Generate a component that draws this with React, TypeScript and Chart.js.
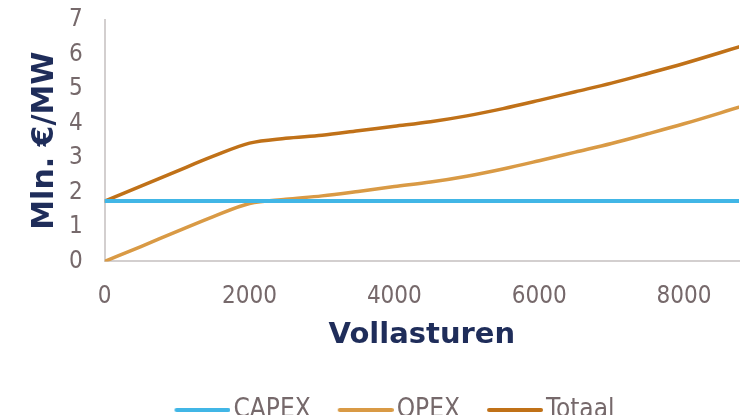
import React, { useEffect, useRef } from "react";
import { Chart, registerables } from "chart.js";

Chart.register(...registerables);

// Full-load hours on the x axis
const hours = [0, 500, 1000, 1500, 2000, 2500, 3000, 3500, 4000, 4500, 5000, 5500, 6000, 6500, 7000, 7500, 8000, 8760];
// Cost per MW (million euro)
const capex = [1.75, 1.75, 1.75, 1.75, 1.75, 1.75, 1.75, 1.75, 1.75, 1.75, 1.75, 1.75, 1.75, 1.75, 1.75, 1.75, 1.75, 1.75];
const opex = [0, 0.43, 0.87, 1.3, 1.68, 1.8, 1.9, 2.03, 2.17, 2.3, 2.47, 2.68, 2.92, 3.17, 3.42, 3.7, 3.99, 4.47];
const totaal = [1.75, 2.18, 2.62, 3.05, 3.43, 3.57, 3.66, 3.79, 3.92, 4.05, 4.22, 4.43, 4.67, 4.92, 5.17, 5.45, 5.74, 6.22];

const seriesNames = ["CAPEX", "OPEX", "Totaal"];
const seriesColors = ["#41b6e6", "#d99a45", "#c07118"];
const xTicks = [0, 2000, 4000, 6000, 8000];

const tickColor = "#76696b";
const titleColor = "#1f2d5a";
const condensed = "'DejaVu Sans Condensed', 'DejaVu Sans', sans-serif";
const bold = "'DejaVu Sans', Verdana, sans-serif";

// Legend swatch: a short horizontal stroke, drawn a little past the box so it sits close to the text
function legendSwatch(color: string): HTMLCanvasElement {
  const c = document.createElement("canvas");
  c.width = 64;
  c.height = 8;
  const ctx = c.getContext("2d")!;
  ctx.strokeStyle = color;
  ctx.lineWidth = 4;
  ctx.lineCap = "round";
  ctx.beginPath();
  ctx.moveTo(10, 4);
  ctx.lineTo(62, 4);
  ctx.stroke();
  return c;
}

// Nudges the legend box after layout
const legendShift = {
  id: "legendShift",
  afterLayout(chart: any) {
    const lg = chart.legend;
    if (!lg) return;
    const dx = 20;
    const dy = -5;
    lg.left += dx;
    lg.right += dx;
    lg.top += dy;
    lg.bottom += dy;
  },
};

export default function App() {
  const canvasRef = useRef<HTMLCanvasElement | null>(null);

  useEffect(() => {
    if (!canvasRef.current) return;
    const toPoints = (vals: number[]) => hours.map((h, i) => ({ x: h, y: vals[i] }));
    const values = [capex, opex, totaal];
    const chart = new Chart(canvasRef.current, {
      type: "line",
      plugins: [legendShift],
      data: {
        datasets: values.map((vals, i) => ({
          label: seriesNames[i],
          data: toPoints(vals),
          borderColor: seriesColors[i],
          backgroundColor: seriesColors[i],
          borderWidth: i === 0 ? 4 : 3.5,
          pointRadius: 0,
          pointStyle: legendSwatch(seriesColors[i]),
          cubicInterpolationMode: "monotone" as const,
          borderCapStyle: "round" as const,
        })),
      },
      options: {
        animation: false,
        responsive: true,
        maintainAspectRatio: false,
        layout: { padding: { left: 12, right: 16, top: 20, bottom: -23 } },
        plugins: {
          tooltip: { enabled: false },
          legend: {
            position: "bottom",
            labels: {
              usePointStyle: true,
              pointStyleWidth: 44,
              padding: 29,
              color: tickColor,
              font: { family: condensed, size: 26 },
            },
          },
        },
        scales: {
          x: {
            type: "linear",
            min: 0,
            max: 8760,
            afterBuildTicks: (axis: any) => {
              axis.ticks = xTicks.map((v) => ({ value: v }));
            },
            grid: { display: false, drawTicks: false },
            border: { color: "#d3cfcf", width: 2 },
            ticks: {
              color: tickColor,
              padding: 21,
              maxRotation: 0,
              autoSkip: false,
              font: { family: condensed, size: 24 },
              callback: (v: any) => String(v),
            },
            title: {
              display: true,
              text: "Vollasturen",
              color: titleColor,
              font: { family: bold, size: 29, weight: "bold" },
              padding: { top: -14, bottom: 20 },
            },
          },
          y: {
            min: 0,
            max: 7,
            afterFit: (scale: any) => {
              scale.paddingTop = 0;
              scale.paddingBottom = 0;
            },
            grid: { display: false, drawTicks: false },
            border: { color: "#d3cfcf", width: 2 },
            ticks: {
              stepSize: 1,
              autoSkip: false,
              color: tickColor,
              padding: 22,
              font: { family: condensed, size: 24 },
            },
            title: {
              display: true,
              text: "Mln. €/MW",
              color: titleColor,
              font: { family: bold, size: 30, weight: "bold" },
              padding: { top: 15, bottom: -16 },
            },
          },
        },
      },
    });
    return () => chart.destroy();
  }, []);

  return (
    <div style={{ position: "absolute", left: 0, top: 0, width: 755, height: 415 }}>
      <canvas ref={canvasRef} />
    </div>
  );
}
